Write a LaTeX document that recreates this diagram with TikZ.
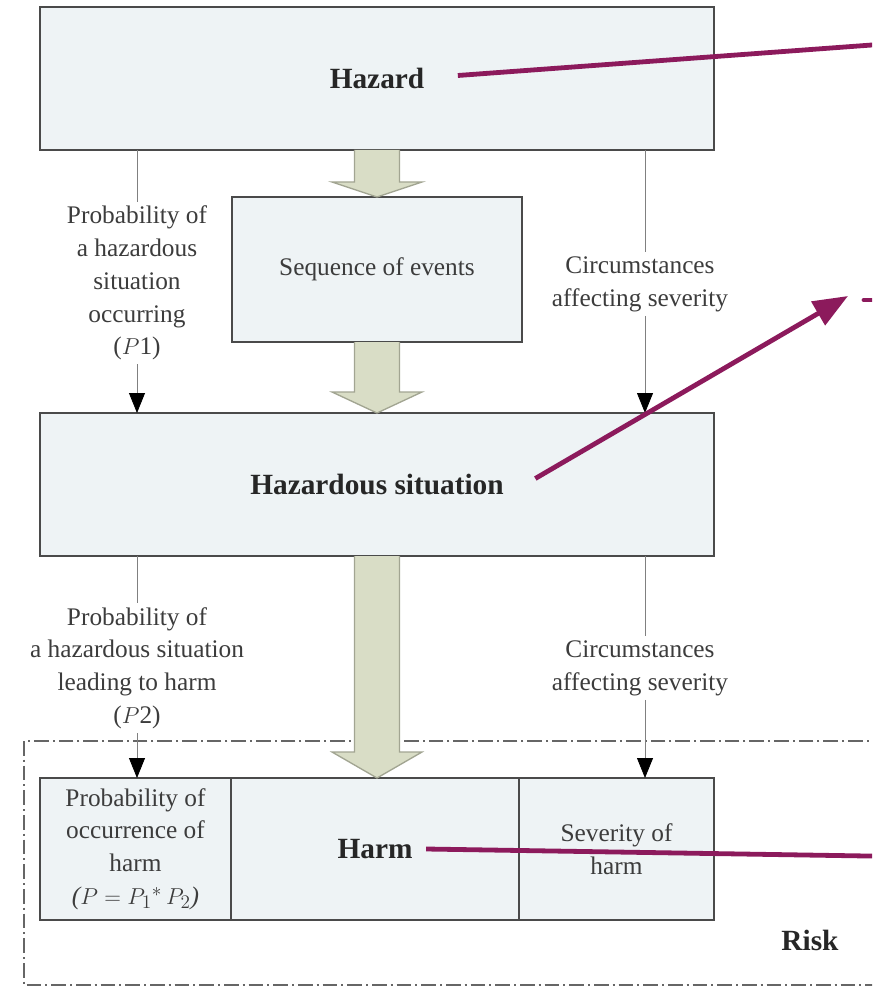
\documentclass[tikz,border=0pt]{standalone}
\usepackage{fontspec}
\setmainfont{Liberation Serif}
\usetikzlibrary{calc, arrows.meta}

\definecolor{boxfill}{HTML}{EEF3F5}
\definecolor{boxline}{HTML}{4A4A4A}
\definecolor{flowfill}{HTML}{D9DDC6}
\definecolor{flowline}{HTML}{A2A592}
\definecolor{plum}{HTML}{8C1A5C}
\definecolor{labelgray}{HTML}{3C3C3C}

\tikzset{
  box/.style={draw=boxline, fill=boxfill, line width=1.2pt, inner sep=0pt, outer sep=0pt},
  lbl/.style={align=center, text=labelgray, font=\fontsize{19}{24.6}\selectfont, inner sep=3pt},
  boldlbl/.style={text=black!85, font=\fontsize{22}{26}\selectfont\bfseries, inner sep=1pt},
  feed/.style={draw=gray, line width=0.6pt},
  feedarrow/.style={feed, -{Triangle[length=15pt, width=12pt, color=black]}},
  flow/.style={draw=flowline, fill=flowfill, line width=1pt},
  pointer/.style={draw=plum, line width=3.6pt},
}

% big block arrow: from, to, head length
\newcommand{\flowarrow}[3]{%
  \filldraw[flow] ($(#1)+(-22.5,0)$) -- ($(#2)+(-22.5,-#3)$) -- ($(#2)+(-45,-#3)$)
    -- (#2) -- ($(#2)+(45,-#3)$) -- ($(#2)+(22.5,-#3)$) -- ($(#1)+(22.5,0)$);}

\begin{document}
\begin{tikzpicture}[x=0.75pt, y=-0.75pt]
  \useasboundingbox (0,0) rectangle (872,987);
  \clip (0,0) rectangle (872,987);

  % boxes
  \node[box, minimum width=505.5pt, minimum height=107.25pt] (hazard) at (377,78.5) {};
  \node[box, minimum width=217.5pt, minimum height=108.75pt] (seq) at (377,269.5) {};
  \node[box, minimum width=505.5pt, minimum height=107.25pt] (hazsit) at (377,484.5) {};
  \node[box, minimum width=143.25pt, minimum height=106.5pt] (prob) at (135.5,849) {};
  \node[box, minimum width=216pt, minimum height=106.5pt, anchor=west] (harm) at (prob.east) {};
  \node[box, minimum width=146.25pt, minimum height=106.5pt, anchor=west] (sev) at (harm.east) {};

  % risk frame
  \draw[gray!80!black, line width=0.8pt, dash pattern=on 11pt off 3pt on 1.5pt off 3pt]
    (24,741) rectangle (890,985);
  \node[boldlbl] (risk) at (810,940) {Risk};

  % block arrows
  \flowarrow{hazard.south}{seq.north}{15}
  \flowarrow{seq.south}{hazsit.north}{21}
  \flowarrow{hazsit.south}{hazsit.south |- harm.north}{26}

  % texts
  \node[boldlbl] (hazardtxt) at (hazard.center) {Hazard};
  \node[lbl] (seqtxt) at (seq.center) {Sequence of events};
  \node[boldlbl] (hazsittxt) at (hazsit.center) {Hazardous situation};
  \node[lbl] (probtxt) at (prob.center)
    {Probability of\\occurrence of\\harm\\\textit{($P = P_1{}^{*}\,P_2$)}};
  \node[boldlbl] (harmtxt) at (harm.center) {Harm};
  \node[lbl] (sevtxt) at (sev.center) {Severity of\\harm};

  % factors
  \node[lbl] (p1) at (137,283) {Probability of\\a hazardous\\situation\\occurring\\($P$1)};
  \node[lbl] (circ1) at (640,284) {Circumstances\\affecting severity};
  \node[lbl] (p2) at (137,668) {Probability of\\a hazardous situation\\leading to harm\\($P$2)};
  \node[lbl] (circ2) at (640,668) {Circumstances\\affecting severity};

  \draw[feed] (hazard.south -| p1) -- (p1.north);
  \draw[feedarrow] (p1.south) -- (p1.south |- hazsit.north);
  \draw[feed] (hazard.south -| 645,0) -- (645,0 |- circ1.north);
  \draw[feedarrow] (645,0 |- circ1.south) -- (645,0 |- hazsit.north);
  \draw[feed] (hazsit.south -| p2) -- (p2.north);
  \draw[feedarrow] (p2.south) -- (p2.south |- prob.north);
  \draw[feed] (hazsit.south -| 645,0) -- (645,0 |- circ2.north);
  \draw[feedarrow] (645,0 |- circ2.south) -- (645,0 |- sev.north);

  % pointers to the right
  \coordinate (offA) at (880,44.4);
  \coordinate (tipB) at (848,296);
  \coordinate (dashB1) at (864,300);
  \coordinate (dashB2) at (880,300);
  \coordinate (offC) at (880,856.2);
  \draw[pointer] ($(hazardtxt.east)+(32,-3)$) -- (offA);
  \draw[pointer, -{Triangle[length=26pt, width=20pt]}] ($(hazsittxt.east)+(30,-6)$) -- (tipB);
  \draw[pointer, line cap=round] (dashB1) -- (dashB2);
  \draw[pointer] ($(harmtxt.east)+(12,0)$) -- (offC);
\end{tikzpicture}
\end{document}
